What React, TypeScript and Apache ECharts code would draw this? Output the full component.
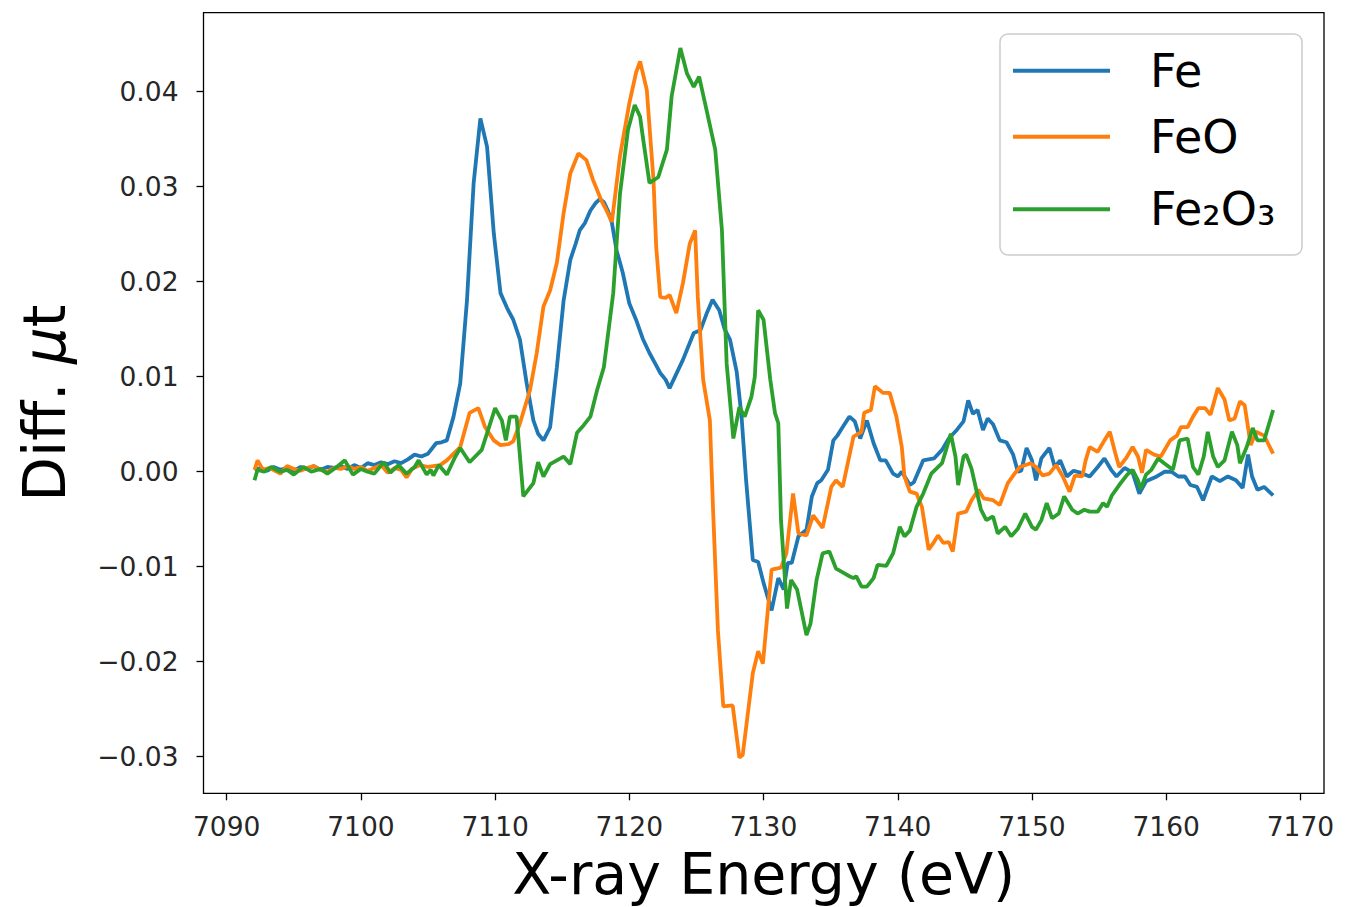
import React, { useEffect, useRef } from "react";
import * as echarts from "echarts";

// Tick values
const X_TICKS = [7090, 7100, 7110, 7120, 7130, 7140, 7150, 7160, 7170];
const Y_TICKS = [-0.03, -0.02, -0.01, 0.0, 0.01, 0.02, 0.03, 0.04];

const SERIES_NAMES = ["Fe", "FeO", "Fe₂O₃"];
const SERIES_COLORS = ["#1f77b4", "#ff7f0e", "#2ca02c"];

// [energy (eV), diff. mu t]
const feData: [number, number][] = [
  [7092.07, 0.0002], [7092.5, 0.0004], [7093.0, 0.0001], [7093.5, 0.0005], [7094.0, 0.0002],
  [7094.5, 0.0004], [7095.0, 0.0001], [7095.5, 0.0005], [7096.0, 0.0003], [7096.5, 0.0006],
  [7097.0, 0.0002], [7097.5, 0.0005], [7098.0, 0.0004], [7098.5, 0.0006], [7099.0, 0.0003],
  [7099.5, 0.0007], [7100.0, 0.0004], [7100.5, 0.0009], [7101.0, 0.0007], [7101.5, 0.001],
  [7102.0, 0.0008], [7102.5, 0.0011], [7103.0, 0.0009], [7103.5, 0.0013], [7104.0, 0.0018],
  [7104.5, 0.0016], [7105.0, 0.0019], [7105.6, 0.003], [7106.0, 0.0031], [7106.4, 0.0033],
  [7106.9, 0.0058], [7107.4, 0.0093], [7107.9, 0.018], [7108.4, 0.0304], [7108.9, 0.0372],
  [7109.4, 0.0342], [7109.9, 0.0251], [7110.4, 0.0188], [7110.9, 0.0172], [7111.35, 0.016],
  [7111.85, 0.0139], [7112.35, 0.0093], [7112.85, 0.0054], [7113.2, 0.004], [7113.6, 0.0033],
  [7114.1, 0.0047], [7114.6, 0.011], [7115.1, 0.018], [7115.6, 0.0223], [7116.0, 0.024],
  [7116.3, 0.0254], [7116.7, 0.0262], [7117.1, 0.0275], [7117.5, 0.0283], [7117.8, 0.0287],
  [7118.1, 0.0284], [7118.4, 0.0275], [7118.7, 0.0262], [7119.05, 0.0233], [7119.5, 0.021],
  [7120.0, 0.0177], [7120.5, 0.016], [7121.0, 0.014], [7121.5, 0.0125], [7122.0, 0.0112],
  [7122.3, 0.0104], [7122.7, 0.0097], [7123.0, 0.0088], [7123.5, 0.0103], [7124.0, 0.0118],
  [7124.4, 0.0132], [7124.8, 0.0146], [7125.3, 0.0149], [7125.8, 0.0168], [7126.2, 0.0181],
  [7126.7, 0.017], [7127.1, 0.015], [7127.5, 0.0139], [7128.0, 0.0105], [7128.35, 0.006],
  [7128.7, -0.0009], [7129.2, -0.0093], [7129.6, -0.0095], [7130.0, -0.0117], [7130.6, -0.0146],
  [7131.1, -0.0112], [7131.5, -0.0124], [7131.8, -0.0096], [7132.1, -0.0096], [7132.6, -0.0068],
  [7133.2, -0.0061], [7133.6, -0.0026], [7134.0, -0.0012], [7134.3, -0.0009], [7134.8, 0.0002],
  [7135.2, 0.0033], [7135.5, 0.0038], [7135.9, 0.0047], [7136.4, 0.0058], [7136.8, 0.0053],
  [7137.2, 0.0035], [7137.7, 0.0054], [7138.2, 0.003], [7138.7, 0.0012], [7139.1, 0.0012],
  [7139.65, -0.0002], [7140.0, -0.0005], [7140.3, 0.0], [7140.9, -0.0014], [7141.2, -0.0011],
  [7141.9, 0.0012], [7142.7, 0.0014], [7143.3, 0.0023], [7143.8, 0.0035], [7144.4, 0.0044],
  [7144.9, 0.0053], [7145.25, 0.0075], [7145.6, 0.0061], [7145.95, 0.0065], [7146.35, 0.0044],
  [7146.7, 0.0056], [7147.1, 0.005], [7147.6, 0.0033], [7148.1, 0.0031], [7148.6, 0.0018],
  [7148.95, 0.0], [7149.2, 0.0001], [7149.6, 0.0025], [7150.0, 0.0012], [7150.3, -0.0009],
  [7150.7, 0.0014], [7151.3, 0.0025], [7151.7, 0.0005], [7152.1, 0.0012], [7152.6, -0.0005],
  [7153.1, 0.0001], [7153.6, -0.0001], [7154.3, -0.0005], [7154.9, 0.0005], [7155.4, 0.0014],
  [7155.9, 0.0002], [7156.3, -0.0005], [7156.9, 0.0004], [7157.5, -0.0001], [7158.0, -0.0023],
  [7158.5, -0.001], [7159.3, -0.0005], [7159.9, 0.0], [7160.4, 0.0], [7160.9, -0.0005],
  [7161.4, -0.0005], [7161.8, -0.0014], [7162.3, -0.0016], [7162.75, -0.003], [7163.4, -0.0005],
  [7164.0, -0.001], [7164.6, -0.0005], [7165.2, -0.0009], [7165.7, -0.0017], [7166.1, 0.0018],
  [7166.4, -0.0005], [7166.8, -0.0019], [7167.3, -0.0016], [7167.97, -0.0025],
];

const feoData: [number, number][] = [
  [7092.07, 0.0002], [7092.3, 0.0012], [7092.7, 0.0002], [7093.2, 0.0004], [7093.6, 0.0001],
  [7094.0, -0.0002], [7094.5, 0.0006], [7095.0, 0.0003], [7095.5, 0.0001], [7096.0, 0.0004],
  [7096.5, 0.0006], [7097.0, 0.0002], [7097.5, 0.0], [7098.0, 0.0004], [7098.5, 0.0003],
  [7099.0, 0.0006], [7099.5, 0.0003], [7100.0, 0.0005], [7100.5, 0.0001], [7101.0, 0.0004],
  [7101.5, 0.0007], [7102.0, -0.0001], [7102.5, 0.0004], [7103.0, 0.0002], [7103.4, -0.0006],
  [7103.8, 0.0003], [7104.4, 0.0007], [7105.0, 0.0005], [7105.9, 0.0007], [7106.4, 0.0012],
  [7107.4, 0.0026], [7108.1, 0.0062], [7108.75, 0.0067], [7109.25, 0.0047], [7109.9, 0.0033],
  [7110.4, 0.0028], [7111.0, 0.0029], [7111.35, 0.0032], [7111.85, 0.0051], [7112.6, 0.0086],
  [7113.1, 0.0125], [7113.6, 0.0174], [7114.1, 0.0191], [7114.6, 0.022], [7115.1, 0.0272],
  [7115.6, 0.0314], [7116.2, 0.0335], [7116.8, 0.0328], [7117.3, 0.0307], [7117.9, 0.0286],
  [7118.3, 0.0275], [7118.7, 0.0263], [7119.3, 0.0332], [7120.0, 0.0388], [7120.5, 0.042],
  [7120.8, 0.0432], [7121.3, 0.0402], [7121.8, 0.0307], [7122.0, 0.0237], [7122.3, 0.0184],
  [7122.7, 0.0183], [7123.0, 0.0186], [7123.5, 0.0167], [7124.0, 0.0199], [7124.5, 0.024],
  [7124.9, 0.0254], [7125.1, 0.0184], [7125.5, 0.0097], [7126.0, 0.0054], [7126.25, -0.0044],
  [7126.6, -0.0167], [7127.0, -0.0247], [7127.7, -0.0246], [7128.2, -0.0301], [7128.45, -0.0298],
  [7129.2, -0.0212], [7129.6, -0.0189], [7129.95, -0.0202], [7130.6, -0.0103], [7131.3, -0.0101],
  [7131.7, -0.0086], [7132.2, -0.0023], [7132.6, -0.0065], [7133.2, -0.0067], [7133.7, -0.0046],
  [7134.4, -0.0059], [7135.05, -0.0016], [7135.4, -0.0009], [7135.9, -0.0016], [7136.7, 0.0037],
  [7137.3, 0.0042], [7137.5, 0.0062], [7138.0, 0.0065], [7138.3, 0.009], [7138.9, 0.0083],
  [7139.4, 0.0083], [7139.9, 0.0058], [7140.3, 0.0026], [7140.5, -0.0005], [7140.9, -0.0021],
  [7141.4, -0.0023], [7141.8, -0.0037], [7142.3, -0.0082], [7142.7, -0.0074], [7143.0, -0.0067],
  [7143.4, -0.0075], [7143.8, -0.0074], [7144.1, -0.0084], [7144.5, -0.0044], [7145.1, -0.0042],
  [7145.5, -0.003], [7146.0, -0.0019], [7146.4, -0.0028], [7147.1, -0.003], [7147.6, -0.0035],
  [7148.2, -0.0012], [7148.6, -0.0004], [7149.1, 0.0005], [7149.9, 0.0009], [7150.3, 0.0005],
  [7150.8, -0.0004], [7151.3, -0.0002], [7151.8, 0.0007], [7152.3, -0.0005], [7152.8, -0.0021],
  [7153.2, -0.0004], [7153.75, -0.0005], [7154.0, 0.0012], [7154.3, 0.0026], [7154.9, 0.0021],
  [7155.4, 0.0033], [7155.8, 0.0042], [7156.2, 0.002], [7156.5, 0.0005], [7157.0, 0.0014],
  [7157.5, 0.0026], [7157.9, 0.0016], [7158.2, -0.0001], [7158.5, 0.0023], [7159.1, 0.0018],
  [7159.6, 0.0016], [7160.3, 0.0033], [7160.8, 0.0038], [7161.1, 0.0047], [7161.6, 0.0047],
  [7162.0, 0.0058], [7162.4, 0.0067], [7162.9, 0.0067], [7163.3, 0.006], [7163.85, 0.0088],
  [7164.35, 0.0076], [7164.7, 0.0054], [7165.1, 0.0056], [7165.5, 0.0074], [7165.85, 0.007],
  [7166.3, 0.0028], [7166.7, 0.0042], [7167.3, 0.0038], [7167.97, 0.0019],
];

const fe2o3Data: [number, number][] = [
  [7092.07, -0.0009], [7092.3, 0.0002], [7092.8, 0.0], [7093.3, 0.0005], [7094.0, 0.0],
  [7094.5, 0.0002], [7095.0, -0.0003], [7095.7, 0.0005], [7096.3, 0.0], [7097.0, 0.0003],
  [7097.5, -0.0002], [7098.2, 0.0005], [7098.8, 0.0012], [7099.4, -0.0003], [7100.0, 0.0003],
  [7100.5, 0.0], [7101.0, -0.0002], [7101.7, 0.001], [7102.2, -0.0001], [7102.8, 0.0007],
  [7103.4, -0.0002], [7104.0, 0.0005], [7104.3, 0.0012], [7104.9, -0.0003], [7105.2, 0.0002],
  [7105.4, -0.0004], [7105.8, 0.0007], [7106.4, -0.0003], [7107.0, 0.0015], [7107.4, 0.0025],
  [7108.1, 0.001], [7109.0, 0.0023], [7110.0, 0.0067], [7110.5, 0.0054], [7110.8, 0.0033],
  [7111.1, 0.0058], [7111.6, 0.0058], [7112.1, -0.0026], [7112.85, -0.0012], [7113.2, 0.001],
  [7113.6, -0.0005], [7114.1, 0.0008], [7115.1, 0.0016], [7115.6, 0.0008], [7116.1, 0.0041],
  [7116.6, 0.0049], [7117.1, 0.0058], [7117.6, 0.0086], [7118.1, 0.011], [7118.55, 0.016],
  [7118.8, 0.0188], [7119.3, 0.0292], [7119.9, 0.036], [7120.4, 0.0386], [7120.8, 0.0374],
  [7121.0, 0.0353], [7121.5, 0.0304], [7122.15, 0.031], [7122.8, 0.0339], [7123.15, 0.0395],
  [7123.8, 0.0446], [7124.3, 0.0419], [7124.8, 0.0405], [7125.2, 0.0416], [7125.75, 0.0381],
  [7126.4, 0.0339], [7126.9, 0.0254], [7127.25, 0.0114], [7127.75, 0.0035], [7128.2, 0.0068],
  [7128.6, 0.0058], [7129.1, 0.0079], [7129.35, 0.01], [7129.6, 0.017], [7130.0, 0.016],
  [7130.5, 0.0097], [7130.85, 0.0062], [7131.1, 0.0051], [7131.3, -0.0051], [7131.6, -0.0114],
  [7131.75, -0.0144], [7132.05, -0.0114], [7132.5, -0.0124], [7133.2, -0.0172], [7133.5, -0.016],
  [7133.95, -0.0114], [7134.4, -0.0086], [7134.9, -0.0084], [7135.4, -0.0102], [7135.9, -0.0106],
  [7136.4, -0.011], [7136.7, -0.0112], [7136.9, -0.011], [7137.3, -0.0121], [7137.7, -0.0121],
  [7138.2, -0.0112], [7138.5, -0.0098], [7139.15, -0.0099], [7139.65, -0.0086], [7140.15, -0.0058],
  [7140.5, -0.0068], [7140.9, -0.0062], [7141.4, -0.0037], [7141.9, -0.0023], [7142.5, -0.0002],
  [7143.3, 0.0009], [7143.6, 0.0023], [7143.95, 0.004], [7144.3, 0.0016], [7144.5, -0.0014],
  [7144.9, 0.0016], [7145.1, 0.0018], [7145.5, 0.0003], [7145.85, -0.0019], [7146.2, -0.004],
  [7146.6, -0.0051], [7147.1, -0.0047], [7147.45, -0.0065], [7148.0, -0.0058], [7148.45, -0.0068],
  [7148.95, -0.006], [7149.5, -0.0044], [7150.0, -0.0058], [7150.3, -0.0061], [7150.7, -0.0051],
  [7151.1, -0.0033], [7151.5, -0.0049], [7152.0, -0.0044], [7152.4, -0.0026], [7153.0, -0.004],
  [7153.4, -0.0044], [7153.9, -0.004], [7154.3, -0.0042], [7154.9, -0.0042], [7155.3, -0.0033],
  [7155.6, -0.0037], [7155.95, -0.0025], [7156.5, -0.0014], [7157.1, -0.0003], [7157.5, 0.0002],
  [7157.9, -0.0009], [7158.1, -0.0018], [7158.5, -0.0003], [7158.9, 0.0002], [7159.4, 0.0014],
  [7159.85, 0.0009], [7160.5, 0.0002], [7161.0, 0.0033], [7161.6, 0.0035], [7162.0, 0.0005],
  [7162.4, -0.0003], [7162.8, 0.0016], [7163.1, 0.0042], [7163.5, 0.0016], [7163.85, 0.0005],
  [7164.35, 0.0012], [7164.9, 0.0042], [7165.3, 0.0028], [7165.5, 0.0009], [7166.0, 0.0026],
  [7166.45, 0.0046], [7166.8, 0.0033], [7167.3, 0.0033], [7167.97, 0.0065],
];

const SERIES_DATA = [feData, feoData, fe2o3Data];

const FONT = "DejaVu Sans";

export default function App() {
  const ref = useRef<HTMLDivElement>(null);

  useEffect(() => {
    document.body.style.margin = "0";
    if (!ref.current) return;
    const chart = echarts.init(ref.current, undefined, { renderer: "svg" });

    const fmtY = (v: number) => (v < -1e-9 ? "\u2212" : "") + Math.abs(v).toFixed(2);

    chart.setOption({
      animation: false,
      backgroundColor: "#ffffff",
      grid: {
        left: 203.5,
        top: 12.7,
        width: 1120.5,
        height: 780.6,
        show: true,
        borderColor: "#000000",
        borderWidth: 1.3,
        backgroundColor: "transparent",
        containLabel: false,
        outerBoundsMode: "none",
      },
      xAxis: {
        type: "value",
        min: 7088.27,
        max: 7171.76,
        axisLine: { show: false, onZero: false },
        splitLine: { show: false },
        axisTick: {
          show: true,
          inside: false,
          length: 7,
          lineStyle: { color: "#000", width: 1.3 },
          customValues: X_TICKS,
        },
        axisLabel: {
          customValues: X_TICKS,
          fontSize: 26.5,
          fontFamily: FONT,
          color: "#262626",
          margin: 20,
          formatter: (v: number) => String(Math.round(v)),
        },
        name: "X-ray Energy (eV)",
        nameLocation: "middle",
        nameGap: 52,
        nameTextStyle: { fontSize: 57, fontFamily: FONT, color: "#000", lineHeight: 56 },
      },
      yAxis: {
        type: "value",
        min: -0.03385,
        max: 0.04832,
        axisLine: { show: false, onZero: false },
        splitLine: { show: false },
        axisTick: {
          show: true,
          inside: false,
          length: 7,
          lineStyle: { color: "#000", width: 1.3 },
          customValues: Y_TICKS,
        },
        axisLabel: {
          customValues: Y_TICKS,
          fontSize: 26.5,
          fontFamily: FONT,
          color: "#262626",
          margin: 25,
          formatter: fmtY,
        },
        name: "Diff. {i|μ}t",
        nameLocation: "middle",
        nameRotate: 90,
        nameGap: 128,
        nameTextStyle: {
          fontSize: 58,
          fontFamily: FONT,
          color: "#000",
          lineHeight: 62,
          rich: {
            i: { fontSize: 58, fontFamily: FONT, fontStyle: "italic", color: "#000", lineHeight: 62 },
          },
        },
      },
      legend: {
        orient: "vertical",
        left: 1013,
        top: 45.7,
        padding: 0,
        icon: "rect",
        itemWidth: 97,
        itemHeight: 4,
        itemGap: 16,
        textStyle: { fontSize: 46, fontFamily: FONT, color: "#000", lineHeight: 50, padding: [0, 0, 0, 35] },
        data: [
          { name: SERIES_NAMES[0] },
          { name: SERIES_NAMES[1] },
          { name: SERIES_NAMES[2], textStyle: { lineHeight: 63 } },
        ],
      },
      graphic: [
        {
          type: "rect",
          z: 3,
          shape: { x: 1000, y: 34, width: 302, height: 221, r: 8 },
          style: { fill: "rgba(255,255,255,0.8)", stroke: "#cccccc", lineWidth: 1.5 },
        },
      ],
      series: SERIES_NAMES.map((name, i) => ({
        name,
        type: "line",
        data: SERIES_DATA[i],
        showSymbol: false,
        symbol: "none",
        color: SERIES_COLORS[i],
        lineStyle: { color: SERIES_COLORS[i], width: 3.8 },
        z: 2 + i * 0.01,
      })),
    });

    return () => {
      chart.dispose();
    };
  }, []);

  return <div ref={ref} style={{ width: 1345, height: 907 }} />;
}
